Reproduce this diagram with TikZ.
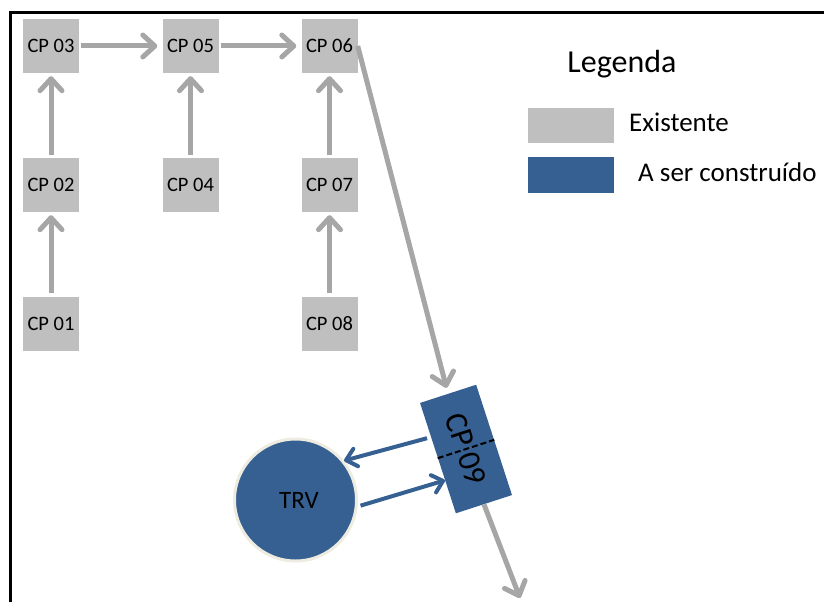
\documentclass[tikz,border=0pt]{standalone}
\usepackage{fontspec}
\setmainfont{Carlito}
\usetikzlibrary{arrows.meta,calc}
\definecolor{boxgray}{RGB}{191,191,191}
\definecolor{arrowgray}{RGB}{166,166,166}
\definecolor{newblue}{RGB}{54,96,146}
\definecolor{rimbeige}{RGB}{238,236,225}
\begin{document}
\begin{tikzpicture}[x=1pt,y=-1pt,
  existing/.style={fill=boxgray, minimum width=56pt, minimum height=54pt,
    inner sep=0pt, font=\fontsize{20.5}{24}\selectfont},
  newsite/.style={fill=newblue, inner sep=0pt},
  greyflow/.style={draw=arrowgray, line width=5pt,
    -{Straight Barb[length=12pt,width=22pt,round]}},
  blueflow/.style={draw=newblue, line width=4pt,
    -{Straight Barb[length=10pt,width=18pt,round]}},
  legtext/.style={anchor=west, inner sep=0pt, font=\fontsize{27}{31}\selectfont},
]
\useasboundingbox (0,0) rectangle (824,602);

% frame (open to the right and bottom)
\draw[line width=3pt] (10,602) -- (10,13) -- (824,13);

% existing collection points
\node[existing] (cp03) at (51,46)      {CP 03};
\node[existing] (cp05) at (190.5,46)   {CP 05};
\node[existing] (cp06) at (329.5,46)   {CP 06};
\node[existing] (cp02) at (51,185)     {CP 02};
\node[existing] (cp04) at (190.5,185)  {CP 04};
\node[existing] (cp07) at (329.5,185)  {CP 07};
\node[existing] (cp01) at (51,323.5)   {CP 01};
\node[existing] (cp08) at (329.5,323.5){CP 08};

% new collection point and treatment unit
\node[newsite, rotate=-72, minimum width=116pt, minimum height=59pt,
      font=\fontsize{32}{36}\selectfont] (cp09) at (466,449) {CP 09};
\draw[black, line width=2pt, dash pattern=on 6pt off 3pt] (cp09.south) -- (cp09.north);
\node[newsite, circle, draw=rimbeige, line width=3pt, minimum size=122pt,
      font=\fontsize{25}{29}\selectfont] (trv) at (295.5,500) {\hspace{7pt}TRV};
\coordinate (outlet) at (520,598);

% flows between existing points
\draw[greyflow, shorten <=3pt, shorten >=3pt] (cp01) -- (cp02);
\draw[greyflow, shorten <=3pt, shorten >=3pt] (cp02) -- (cp03);
\draw[greyflow, shorten <=3pt, shorten >=3pt] (cp04) -- (cp05);
\draw[greyflow, shorten <=3pt, shorten >=3pt] (cp08) -- (cp07);
\draw[greyflow, shorten <=3pt, shorten >=3pt] (cp07) -- (cp06);
\draw[greyflow, shorten <=2pt, shorten >=5pt] (cp03) -- (cp05);
\draw[greyflow, shorten <=2pt, shorten >=5pt] (cp05) -- (cp06);

% flows to and from the new point
\draw[greyflow, shorten >=6pt] (cp06.east) -- (cp09.west);
\draw[greyflow] (cp09.east) -- (outlet);
\draw[blueflow, shorten <=4pt] ($(cp09.south west)!0.31!(cp09.south east)$) -- (trv.39);
\draw[blueflow, shorten <=3pt] (trv.-6) -- ($(cp09.south west)!0.70!(cp09.south east)$);

% legend
\node[font=\fontsize{32}{36}\selectfont] (legtitle) at (622,64) {Legenda};
\node[fill=boxgray, minimum width=86pt, minimum height=35pt, inner sep=0pt] (legold) at (571,125.5) {};
\node[fill=newblue, minimum width=86pt, minimum height=36pt, inner sep=0pt] (legnew) at (571,175) {};
\node[legtext] (legoldtext) at (629,122) {Existente};
\node[legtext] (legnewtext) at (638,172) {A ser construído};
\end{tikzpicture}
\end{document}
